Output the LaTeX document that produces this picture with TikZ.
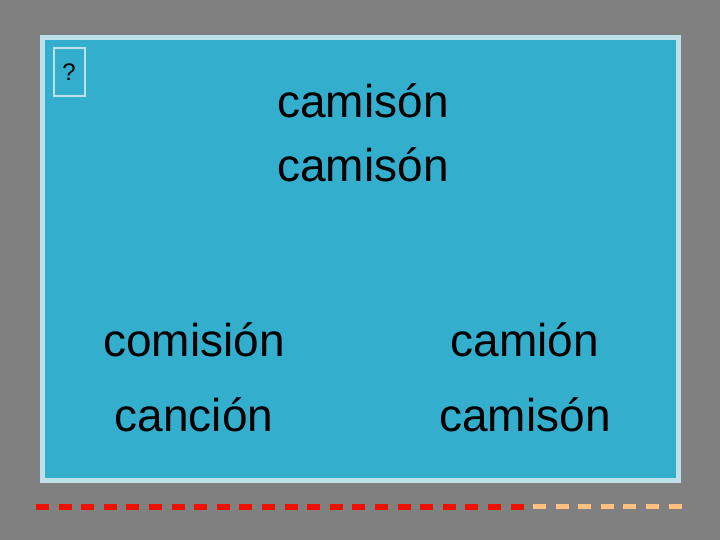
\documentclass[tikz,border=0pt]{standalone}
\usepackage{fontspec}
\setmainfont{Liberation Sans}
\definecolor{bg}{HTML}{808080}
\definecolor{panel}{HTML}{33AECD}
\definecolor{rim}{HTML}{BEE0E8}
\definecolor{dred}{HTML}{EE1100}
\definecolor{peach}{HTML}{FFC080}
\tikzset{word/.style={font=\fontsize{46}{50}\selectfont, text=black, inner sep=0pt}}
\begin{document}
\begin{tikzpicture}[x=1pt,y=-1pt]
\fill[bg] (0,0) rectangle (720,540);
\useasboundingbox (0,0) rectangle (720,540);
\fill[rim] (40,35) rectangle (681,483);
\fill[panel] (45,40) rectangle (676,478);
\node[draw=rim, line width=2pt, minimum width=31pt, minimum height=48pt, inner sep=0pt, font=\fontsize{24}{26}\selectfont] (q) at (69,72) {?};
\node[word] (t1) at (363,101) {camisón};
\node[word] (t2) at (363,165) {camisón};
\node[word] (a1) at (194,340) {comisión};
\node[word] (a2) at (525,340) {camión};
\node[word] (a3) at (194,415) {canción};
\node[word] (a4) at (525,415) {camisón};
\foreach \i in {0,...,21} \fill[dred] (36+\i*22.6,504) rectangle ++(13,6);
\foreach \i in {0,...,6} \fill[peach] (533+\i*22.6,504) rectangle ++(13,5);
\end{tikzpicture}
\end{document}
